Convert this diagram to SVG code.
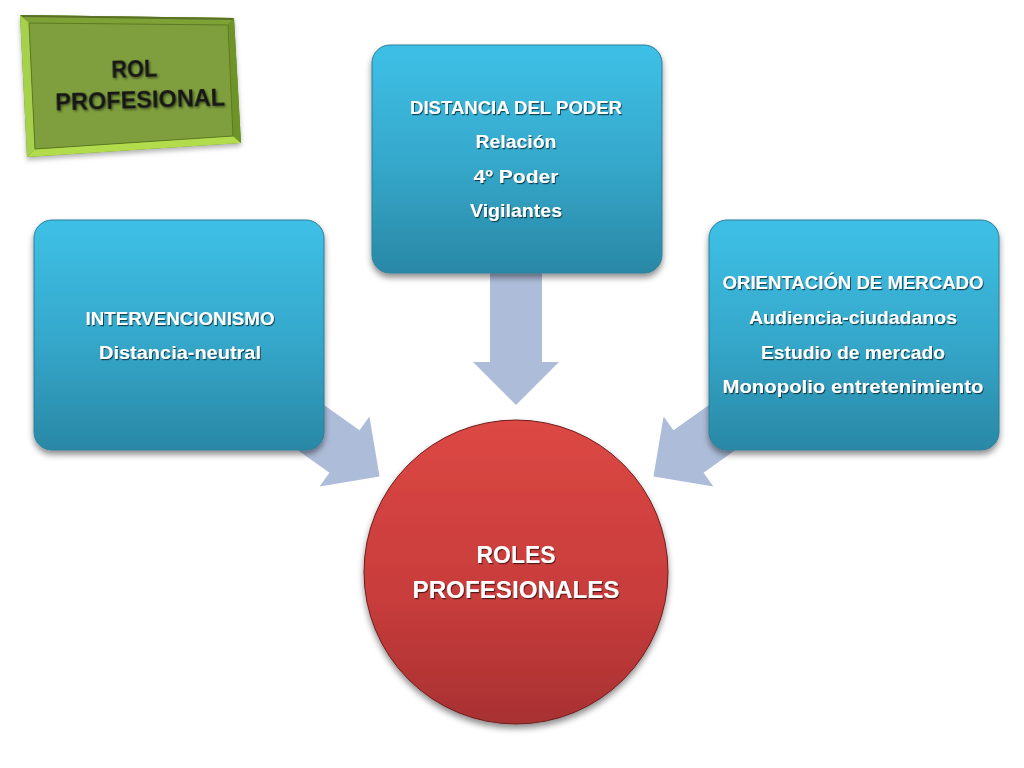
<svg xmlns="http://www.w3.org/2000/svg" width="1024" height="768" viewBox="0 0 1024 768">
<defs>
<linearGradient id="gBlue" x1="0" y1="0" x2="0" y2="1">
<stop offset="0" stop-color="#3ec0e6"/>
<stop offset="0.5" stop-color="#35a9cc"/>
<stop offset="1" stop-color="#2a88a6"/>
</linearGradient>
<linearGradient id="gRed" x1="0" y1="0" x2="0" y2="1">
<stop offset="0" stop-color="#dc4844"/>
<stop offset="0.6" stop-color="#c73c3b"/>
<stop offset="1" stop-color="#a83132"/>
</linearGradient>
<filter id="shBox" x="-10%" y="-10%" width="125%" height="130%">
<feDropShadow dx="0" dy="4" stdDeviation="3" flood-color="#000" flood-opacity="0.45"/>
</filter>
<filter id="shGreen" x="-10%" y="-10%" width="125%" height="130%">
<feDropShadow dx="0" dy="3" stdDeviation="2.5" flood-color="#000" flood-opacity="0.3"/>
</filter>
<filter id="shTxt" x="-5%" y="-20%" width="110%" height="160%">
<feDropShadow dx="1" dy="1.2" stdDeviation="0.7" flood-color="#000" flood-opacity="0.6"/>
</filter>
<filter id="shTxtG" x="-5%" y="-20%" width="110%" height="160%">
<feDropShadow dx="1.2" dy="1.5" stdDeviation="1" flood-color="#000" flood-opacity="0.5"/>
</filter>
<polygon id="arrowShape" points="-112,-26 0,-26 0,-43 43,0 0,43 0,26 -112,26"/>
</defs>
<style>
.box { fill: url(#gBlue); stroke: #2a7f9a; stroke-width: 1; filter: url(#shBox); }
.arrow { fill: #adbdd9; }
.t { font-family: "Liberation Sans", Arial, sans-serif; font-weight: bold; fill: #ffffff; text-anchor: middle; filter: url(#shTxt); }
.tg { font-family: "Liberation Sans", Arial, sans-serif; font-weight: bold; fill: #141414; text-anchor: middle; filter: url(#shTxtG); }
</style>
<rect width="1024" height="768" fill="#ffffff"/>

<g id="connectors">
<use href="#arrowShape" class="arrow" transform="translate(344.5,451.5) rotate(35.4)"/>
<polygon class="arrow" points="490,268 542,268 542,362 559,362 516,405 473,362 490,362"/>
<use href="#arrowShape" class="arrow" transform="translate(688.5,451.5) rotate(144.6)"/>
</g>

<g id="rol-profesional">
<polygon points="20,15 234,18 241,143 27,157" fill="#5f8422" filter="url(#shGreen)"/>
<polygon points="20,15 234,18 228,25 29,23" fill="#7fa236"/>
<polygon points="20,15 234,18 233,20 21,17" fill="#5a7028"/>
<polygon points="20,15 29,23 35,149 27,157" fill="#a6d14c"/>
<polygon points="27,157 35,149 233,136 241,143" fill="#b2dc4c"/>
<polygon points="234,18 241,143 233,136 228,25" fill="#6e9428"/>
<polygon points="29,23 228,25 233,136 35,149" fill="#7f9f3e" stroke="#5c7a24" stroke-width="1"/>
<g transform="rotate(-1.7 138 92)">
<text class="tg" x="135" y="77" font-size="24" textLength="46" lengthAdjust="spacingAndGlyphs">ROL</text>
<text class="tg" x="140" y="108" font-size="24" textLength="170" lengthAdjust="spacingAndGlyphs">PROFESIONAL</text>
</g>
</g>

<g id="node-intervencionismo">
<rect class="box" x="34" y="220" width="290" height="230" rx="18"/>
<text class="t" x="180" y="325" font-size="18.5" textLength="189" lengthAdjust="spacingAndGlyphs">INTERVENCIONISMO</text>
<text class="t" x="180" y="359" font-size="19" textLength="162" lengthAdjust="spacingAndGlyphs">Distancia-neutral</text>
</g>

<g id="node-distancia">
<rect class="box" x="372" y="45" width="290" height="228" rx="18"/>
<text class="t" x="516" y="114" font-size="18.5" textLength="212" lengthAdjust="spacingAndGlyphs">DISTANCIA DEL PODER</text>
<text class="t" x="516" y="148" font-size="19" textLength="81" lengthAdjust="spacingAndGlyphs">Relación</text>
<text class="t" x="516" y="183" font-size="19" textLength="85" lengthAdjust="spacingAndGlyphs">4º Poder</text>
<text class="t" x="516" y="217" font-size="19" textLength="92" lengthAdjust="spacingAndGlyphs">Vigilantes</text>
</g>

<g id="node-orientacion">
<rect class="box" x="709" y="220" width="290" height="230" rx="18"/>
<text class="t" x="853" y="289" font-size="18.5" textLength="261" lengthAdjust="spacingAndGlyphs">ORIENTACIÓN DE MERCADO</text>
<text class="t" x="853" y="324" font-size="19" textLength="208" lengthAdjust="spacingAndGlyphs">Audiencia-ciudadanos</text>
<text class="t" x="853" y="359" font-size="19" textLength="184" lengthAdjust="spacingAndGlyphs">Estudio de mercado</text>
<text class="t" x="853" y="393" font-size="19" textLength="261" lengthAdjust="spacingAndGlyphs">Monopolio entretenimiento</text>
</g>

<g id="node-roles">
<circle cx="516" cy="572" r="152" fill="url(#gRed)" stroke="#6e1c1c" stroke-width="1" filter="url(#shBox)"/>
<text class="t" x="516" y="563" font-size="24" textLength="79" lengthAdjust="spacingAndGlyphs">ROLES</text>
<text class="t" x="516" y="598" font-size="24" textLength="207" lengthAdjust="spacingAndGlyphs">PROFESIONALES</text>
</g>
</svg>
